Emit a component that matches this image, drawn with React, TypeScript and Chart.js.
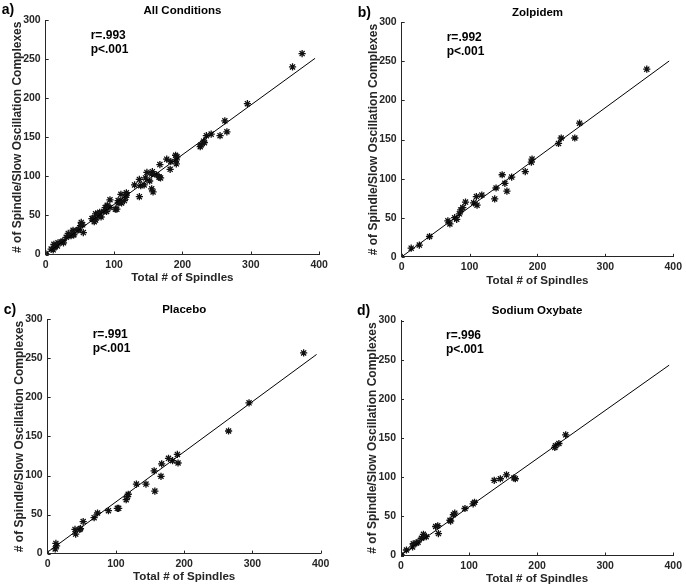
import React, { useEffect, useRef } from "react";
import { Chart, registerables } from "chart.js";

Chart.register(...registerables);

// ---- Data ----
const zolpidemX = [14, 26, 41, 68, 71, 78, 81, 85, 87, 90, 94, 106, 110, 111, 118, 137, 139, 148, 152, 155, 162, 182, 191, 192, 231, 235, 255, 262, 361];
const zolpidemY = [11, 15, 26, 46, 42, 50, 48, 55, 60, 63, 70, 69, 77, 66, 79, 74, 88, 105, 94, 84, 102, 109, 121, 125, 145, 152, 152, 171, 240];

const placeboX = [11, 12, 13, 40, 41, 47, 48, 52, 68, 73, 89, 102, 104, 115, 117, 118, 130, 144, 156, 157, 166, 167, 177, 183, 190, 191, 265, 295, 375];
const placeboY = [6, 13, 10, 31, 25, 31, 32, 41, 46, 52, 55, 58, 58, 69, 73, 76, 89, 89, 106, 80, 99, 115, 122, 119, 127, 116, 157, 193, 257];

const oxybateX = [0, 8, 17, 18, 23, 25, 30, 33, 34, 37, 51, 54, 55, 72, 73, 77, 79, 94, 106, 108, 137, 146, 155, 166, 168, 226, 227, 232, 242];
const oxybateY = [1, 7, 11, 15, 16, 17, 22, 27, 24, 24, 37, 38, 28, 45, 44, 52, 54, 60, 66, 68, 96, 98, 103, 99, 98, 138, 140, 143, 154];

const fitLineX = [0, 394];
const fitAllY = [0.5, 251];
const fitZolpidemY = [0, 250.5];
const fitPlaceboY = [2, 255];
const fitOxybateY = [0.5, 243];

const panelLetters = ["a)", "b)", "c)", "d)"];
const panelTitles = ["All Conditions", "Zolpidem", "Placebo", "Sodium Oxybate"];
const rValues = ["r=.993", "r=.992", "r=.991", "r=.996"];
const pValue = "p<.001";

const xTitle = "Total # of Spindles";
const yTitle = "# of Spindle/Slow Oscillation Complexes";

const FONT = '"Liberation Sans", Arial, Helvetica, sans-serif';
const INK = "#262626";

function toPoints(xs: number[], ys: number[]) {
  return xs.map((x, i) => ({ x, y: ys[i] }));
}

const allX = [...zolpidemX, ...placeboX, ...oxybateX];
const allY = [...zolpidemY, ...placeboY, ...oxybateY];

// layout: canvas rect + plot-area rect (page coords)
const layouts = [
  { cx: 0, cy: 0, cw: 343, ch: 293, left: 45.7, top: 20, right: 319.2, bottom: 254.5 },
  { cx: 343, cy: 0, cw: 343, ch: 293, left: 401.7, top: 22.3, right: 674.5, bottom: 256.8 },
  { cx: 0, cy: 293, cw: 343, ch: 294, left: 47.7, top: 319.3, right: 320.7, bottom: 553.6 },
  { cx: 343, cy: 293, cw: 343, ch: 294, left: 401, top: 320.5, right: 675, bottom: 555.5 },
];

const seriesX = [allX, zolpidemX, placeboX, oxybateX];
const seriesY = [allY, zolpidemY, placeboY, oxybateY];
const fitYs = [fitAllY, fitZolpidemY, fitPlaceboY, fitOxybateY];

const decorPlugin = {
  id: "decor",
  afterDraw(chart: any, _args: any, opts: any) {
    const { ctx, chartArea: ca } = chart;
    const xs = chart.scales.x;
    const ys = chart.scales.y;
    ctx.save();
    ctx.strokeStyle = INK;
    ctx.lineWidth = 1;
    ctx.beginPath();
    xs.ticks.forEach((t: any) => {
      const px = Math.round(xs.getPixelForValue(t.value)) + 0.5;
      ctx.moveTo(px, ca.bottom);
      ctx.lineTo(px, ca.bottom - 3);
    });
    ys.ticks.forEach((t: any) => {
      const py = Math.round(ys.getPixelForValue(t.value)) + 0.5;
      ctx.moveTo(ca.left, py);
      ctx.lineTo(ca.left + 3, py);
    });
    ctx.stroke();

    ctx.fillStyle = "#000";
    ctx.textBaseline = "middle";
    ctx.textAlign = "center";
    ctx.font = `bold 11.5px ${FONT}`;
    ctx.fillText(opts.title, (ca.left + ca.right) / 2, ca.top - 9.5);

    ctx.textAlign = "left";
    ctx.font = `bold 14px ${FONT}`;
    ctx.fillText(opts.letter, ca.left - 44, ca.top - 9.5);

    ctx.font = `bold 12px ${FONT}`;
    ctx.fillText(opts.r, ca.left + 45, ca.top + 15.5);
    ctx.fillText(opts.p, ca.left + 45, ca.top + 29.5);
    ctx.restore();
  },
};

function Panel({ idx }: { idx: number }) {
  const ref = useRef<HTMLCanvasElement | null>(null);
  const L = layouts[idx];

  useEffect(() => {
    if (!ref.current) return;
    const yw = L.left - L.cx;
    const padTop = L.top - L.cy;
    const plotBottomLocal = L.bottom - L.cy;
    const xh = L.ch - plotBottomLocal;
    const padRight = L.cw - (L.right - L.cx);
    const yTitleSize = 12;
    const xTitleSize = 11.6;
    const yTitlePad = yw - 28 - (yTitleSize * 1.2) / 2;
    const xTitlePad = xh - 23.5 - (xTitleSize * 1.2) / 2;

    const chart = new Chart(ref.current, {
      type: "scatter",
      data: {
        datasets: [
          {
            type: "line",
            data: toPoints(fitLineX, fitYs[idx]),
            borderColor: "#000",
            borderWidth: 1,
            pointRadius: 0,
            fill: false,
            showLine: true,
            tension: 0,
          } as any,
          {
            type: "scatter",
            data: toPoints(seriesX[idx], seriesY[idx]),
            pointStyle: "star",
            pointRadius: 3.6,
            borderColor: "#111",
            backgroundColor: "#111",
            borderWidth: 1.3,
          } as any,
        ],
      },
      options: {
        responsive: false,
        animation: false,
        events: [],
        layout: { padding: { left: 0, top: padTop, right: padRight, bottom: 0 } },
        plugins: {
          legend: { display: false },
          tooltip: { enabled: false },
          title: { display: false },
          decor: { title: panelTitles[idx], letter: panelLetters[idx], r: rValues[idx], p: pValue },
        } as any,
        scales: {
          x: {
            type: "linear",
            min: 0,
            max: 400,
            ticks: {
              stepSize: 100,
              color: INK,
              padding: 4,
              maxRotation: 0,
              font: { family: FONT, size: 10.5, weight: "bold" },
            },
            grid: { display: false, drawTicks: false },
            border: { display: true, color: INK, width: 1 },
            title: {
              display: true,
              text: xTitle,
              color: INK,
              font: { family: FONT, size: xTitleSize, weight: "bold" },
              padding: { top: 0, bottom: xTitlePad },
            },
            afterFit: (s: any) => {
              s.height = xh;
            },
          },
          y: {
            type: "linear",
            min: 0,
            max: 300,
            ticks: {
              stepSize: 50,
              color: INK,
              padding: 5,
              font: { family: FONT, size: 10.5, weight: "bold" },
            },
            grid: { display: false, drawTicks: false },
            border: { display: true, color: INK, width: 1 },
            title: {
              display: true,
              text: yTitle,
              color: INK,
              font: { family: FONT, size: yTitleSize, weight: "bold" },
              padding: { top: yTitlePad, bottom: 0 },
            },
            afterFit: (s: any) => {
              s.width = yw;
            },
          },
        } as any,
      },
      plugins: [decorPlugin as any],
    });
    return () => chart.destroy();
  }, []);

  return (
    <canvas
      ref={ref}
      width={L.cw}
      height={L.ch}
      style={{ position: "absolute", left: L.cx, top: L.cy, width: L.cw, height: L.ch }}
    />
  );
}

export default function App() {
  return (
    <div
      style={{
        position: "absolute",
        left: 0,
        top: 0,
        width: 686,
        height: 587,
        background: "#fff",
        overflow: "hidden",
      }}
    >
      {[0, 1, 2, 3].map((i) => (
        <Panel key={i} idx={i} />
      ))}
    </div>
  );
}
